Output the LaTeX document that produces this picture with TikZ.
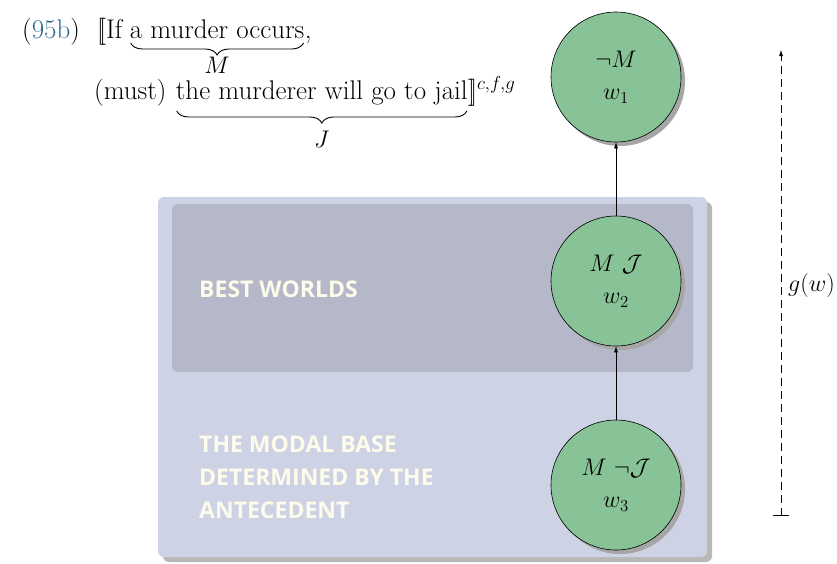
\RequirePackage{fix-cm}
\documentclass[tikz,border=0pt]{standalone}
\usepackage{fontspec}
\newfontfamily\labelfont{Open Sans}
\usetikzlibrary{shadows,arrows.meta,decorations.pathreplacing,calc}
\definecolor{worldgreen}{HTML}{87C397}
\definecolor{basefill}{HTML}{CDD2E5}
\definecolor{bestfill}{HTML}{B5B8C9}
\definecolor{capcol}{HTML}{FDFCEA}
\definecolor{exblue}{HTML}{2B6A8D}
\newcommand\lsem{[\kern-0.17em[}
\newcommand\rsem{]\kern-0.17em]}
\begin{document}
\begin{tikzpicture}[x=1pt,y=-1pt,
  font=\fontsize{24}{32}\selectfont,
  world/.style={circle, draw=black, line width=0.6pt, fill=worldgreen,
    minimum size=130pt, inner sep=0pt, align=center,
    drop shadow={shadow xshift=4pt, shadow yshift=-4pt, fill=black!35, opacity=1}},
  basebox/.style={rectangle, rounded corners=6pt, fill=basefill, inner sep=0pt,
    drop shadow={shadow xshift=5pt, shadow yshift=-5pt, fill=black!28, opacity=1}},
  bestbox/.style={rectangle, rounded corners=6pt, fill=bestfill, inner sep=0pt},
  arr/.style={-{Latex[length=6pt,width=4pt]}, line width=0.6pt},
  capt/.style={font=\labelfont\bfseries\fontsize{23}{33}\selectfont, text=capcol,
    align=left, anchor=west, inner sep=0pt},
  exword/.style={anchor=base west, inner sep=0pt, font=\fontsize{27}{32}\selectfont},
  ubrace/.style={decorate, decoration={brace, mirror, amplitude=12pt}, line width=0.9pt},
  blabel/.style={inner sep=0pt}]
\useasboundingbox (0,0) rectangle (837,563);
% boxes
\node (base) [basebox, minimum width=549pt, minimum height=360pt] at (432.5,377) {};
\node (best) [bestbox, minimum width=521pt, minimum height=168pt] at (432.5,288) {};
% captions
\node (bestlab) [capt] at (199,289) {BEST WORLDS};
\node (baselab) [capt] at (199,477) {THE MODAL BASE\\DETERMINED BY THE\\ANTECEDENT};
% worlds
\node (w1) [world] at (616,77) {$\neg M$\\$w_1$};
\node (w2) [world] at (616,281) {$M\ \mathcal{J}$\\$w_2$};
\node (w3) [world] at (616,485) {$M\ \neg\mathcal{J}$\\$w_3$};
\draw[arr] (w2) -- (w1);
\draw[arr] (w3) -- (w2);
% g(w) scale
\coordinate (gbot) at (781,516);
\coordinate (gtop) at (781,50);
\draw[line width=0.6pt, dash pattern=on 8pt off 5pt,
  {Bar[width=16pt,line width=0.6pt]}-{Latex[length=6pt,width=4pt]}] (gbot) -- (gtop);
\node (gw) [anchor=west, inner sep=0pt] at (788,285) {$g(w)$};
% example text
\node (ex) [exword] at (22,38) {(\textcolor{exblue}{95b})};
\node (l1a) [exword] at (97,38) {\lsem If};
\node (l1b) [exword] at ([xshift=7pt]l1a.base east) {a murder occurs};
\node (l1c) [exword] at (l1b.base east) {,};
\node (l2a) [exword] at (94,99) {(must)};
\node (l2b) [exword] at ([xshift=9pt]l2a.base east) {the murderer will go to jail};
\node (l2c) [exword] at (l2b.base east) {\rsem$^{c,f,g}$};
% braces
\draw[ubrace] ($(l1b.base west)+(1,5)$) -- ($(l1b.base east)+(-1,5)$);
\node (labM) [blabel] at ($(l1b.base west)!0.5!(l1b.base east)+(0,27)$) {$M$};
\draw[ubrace] ($(l2b.base west)+(1,12)$) -- ($(l2b.base east)+(-1,12)$);
\node (labJ) [blabel] at ($(l2b.base west)!0.5!(l2b.base east)+(0,40)$) {$J$};
\end{tikzpicture}
\end{document}
